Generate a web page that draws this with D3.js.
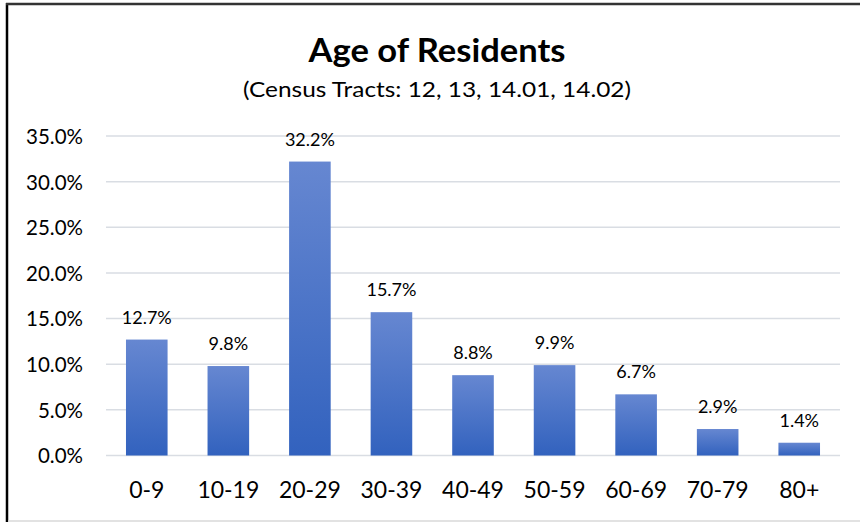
<!DOCTYPE html>
<html><head><meta charset="utf-8">
<script src="https://cdn.jsdelivr.net/npm/d3@7"></script>
<style>html,body{margin:0;padding:0;background:#fff;}svg{display:block;}</style>
</head><body>
<svg id="c" width="860" height="522"></svg>
<script>
const categories = ["0-9","10-19","20-29","30-39","40-49","50-59","60-69","70-79","80+"];
const values = [12.7, 9.8, 32.2, 15.7, 8.8, 9.9, 6.7, 2.9, 1.4];
const yTicks = [0, 5, 10, 15, 20, 25, 30, 35];
const title = "Age of Residents";
const subtitle = "(Census Tracts: 12, 13, 14.01, 14.02)";

const svg = d3.select("#c");
const font = "Lato, 'Open Sans', sans-serif";

// frame
svg.append("line").attr("x1",7).attr("x2",7).attr("y1",3).attr("y2",522).attr("stroke","#000").attr("stroke-width",2.5);
svg.append("line").attr("x1",6).attr("x2",860).attr("y1",4).attr("y2",4).attr("stroke","#333").attr("stroke-width",2.5);
svg.append("line").attr("x1",8).attr("x2",860).attr("y1",521).attr("y2",521).attr("stroke","#d9d9d9").attr("stroke-width",1.5);

const defs = svg.append("defs");
const g = defs.append("linearGradient").attr("id","bg").attr("x1",0).attr("x2",0).attr("y1",0).attr("y2",1);
g.append("stop").attr("offset","0%").attr("stop-color","#6687d1");
g.append("stop").attr("offset","100%").attr("stop-color","#3262be");

const x = d3.scaleBand().domain(categories).range([106, 840]).paddingInner(0.49).paddingOuter(0.245);
const y = d3.scaleLinear().domain([0, 35]).range([455.5, 136]);

// grid
svg.append("g").selectAll("line").data(yTicks).join("line")
  .attr("x1",106).attr("x2",840)
  .attr("y1",d=>y(d)).attr("y2",d=>y(d))
  .attr("stroke","#d9dde3").attr("stroke-width",1.5);

// y axis labels
const yAxis = d3.axisLeft(y).tickValues(yTicks).tickFormat(d=>d.toFixed(1)+"%").tickSize(0).tickPadding(0);
const ya = svg.append("g").attr("transform","translate(83,0)").call(yAxis);
ya.select(".domain").remove();
ya.selectAll("text").attr("font-family",font).attr("font-size",20.5).attr("fill","#000").attr("dy","0.36em");

// bars
svg.append("g").selectAll("rect").data(values).join("rect")
  .attr("x",(d,i)=>x(categories[i]))
  .attr("width",x.bandwidth())
  .attr("y",d=>y(d))
  .attr("height",d=>y(0)-y(d))
  .attr("fill","url(#bg)");

// data labels
svg.append("g").selectAll("text").data(values).join("text")
  .attr("x",(d,i)=>x(categories[i])+x.bandwidth()/2)
  .attr("y",d=>y(d)-16)
  .attr("text-anchor","middle")
  .attr("font-family",font).attr("font-size",18).attr("fill","#000")
  .text(d=>d.toFixed(1)+"%");

// x axis labels
const xAxis = d3.axisBottom(x).tickSize(0).tickPadding(0);
const xa = svg.append("g").attr("transform","translate(0,498)").call(xAxis);
xa.select(".domain").remove();
xa.selectAll("text").attr("font-family",font).attr("font-size",23).attr("fill","#000").attr("dy","0").attr("y",0);

// titles
svg.append("text").attr("x",437).attr("y",62).attr("text-anchor","middle")
  .attr("font-family",font).attr("font-weight","bold").attr("font-size",32).attr("fill","#000")
  .attr("textLength",257).attr("lengthAdjust","spacingAndGlyphs").text(title);
svg.append("text").attr("x",437).attr("y",97).attr("text-anchor","middle")
  .attr("font-family",font).attr("font-size",21).attr("fill","#000")
  .attr("textLength",388).attr("lengthAdjust","spacingAndGlyphs").text(subtitle);
</script>
</body></html>
